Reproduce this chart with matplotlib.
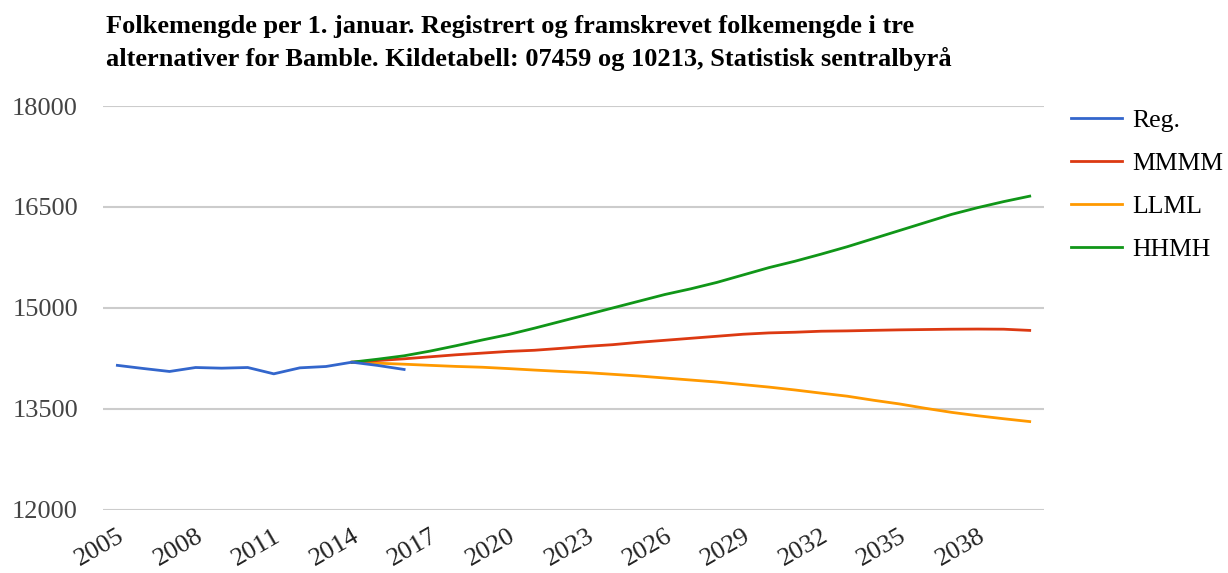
import matplotlib.pyplot as plt
import numpy as np

years_reg = list(range(2005, 2017))
reg = [14148, 14101, 14057, 14116, 14106, 14116, 14022, 14111, 14131, 14195, 14146, 14087]

years_proj = list(range(2014, 2041))
mmmm = [14195, 14220, 14245, 14275, 14305, 14330, 14355, 14372, 14400, 14430,
        14455, 14490, 14520, 14550, 14580, 14610, 14630, 14640, 14655, 14660,
        14668, 14675, 14680, 14685, 14687, 14685, 14667]
llml = [14195, 14180, 14165, 14148, 14132, 14120, 14100, 14078, 14058, 14040,
        14015, 13990, 13960, 13930, 13900, 13862, 13825, 13782, 13735, 13690,
        13630, 13575, 13510, 13450, 13400, 13355, 13313]
hhmh = [14195, 14240, 14290, 14360, 14440, 14525, 14605, 14700, 14800, 14900,
        15000, 15100, 15200, 15285, 15380, 15490, 15600, 15695, 15800, 15910,
        16030, 16150, 16270, 16390, 16490, 16580, 16661]

xticks = list(range(2005, 2039, 3))
yticks = [12000, 13500, 15000, 16500, 18000]

title = ("Folkemengde per 1. januar. Registrert og framskrevet folkemengde i tre\n"
         "alternativer for Bamble. Kildetabell: 07459 og 10213, Statistisk sentralbyrå")

plt.rcParams['font.family'] = ['Liberation Serif', 'DejaVu Serif']

fig = plt.figure(figsize=(12.28, 5.73), dpi=100)
ax = fig.add_axes([0.0839, 0.110, 0.7663, 0.705])

ax.plot(years_reg, reg, color='#3366cc', lw=2, label='Reg.', zorder=5)
ax.plot(years_proj, mmmm, color='#dc3912', lw=2, label='MMMM', zorder=3)
ax.plot(years_proj, llml, color='#ff9900', lw=2, label='LLML', zorder=2)
ax.plot(years_proj, hhmh, color='#109618', lw=2, label='HHMH', zorder=4)

ax.set_xlim(2004.45, 2040.55)
ax.set_ylim(12000, 18000)
ax.set_yticks(yticks)
ax.set_yticklabels([str(v) for v in yticks])
ax.set_xticks(xticks)
ax.set_xticklabels([str(v) for v in xticks], rotation=30, ha='right',
                   rotation_mode='anchor')
ax.tick_params(axis='y', length=0, pad=18, labelsize=19, labelcolor='#444444')
ax.tick_params(axis='x', length=0, pad=11, labelsize=19, labelcolor='#222222')
ax.grid(axis='y', color='#cccccc', lw=1.5)
ax.set_axisbelow(True)
for s in ax.spines.values():
    s.set_visible(False)

fig.text(0.086, 0.925, title, fontsize=19, fontweight='bold', va='center',
         linespacing=1.45)

fig.legend(loc='upper left', bbox_to_anchor=(0.853, 0.85), frameon=False,
           fontsize=18.5, handlelength=2.0, labelspacing=0.78, handletextpad=0.4)

fig.savefig('out.png', dpi=100)
